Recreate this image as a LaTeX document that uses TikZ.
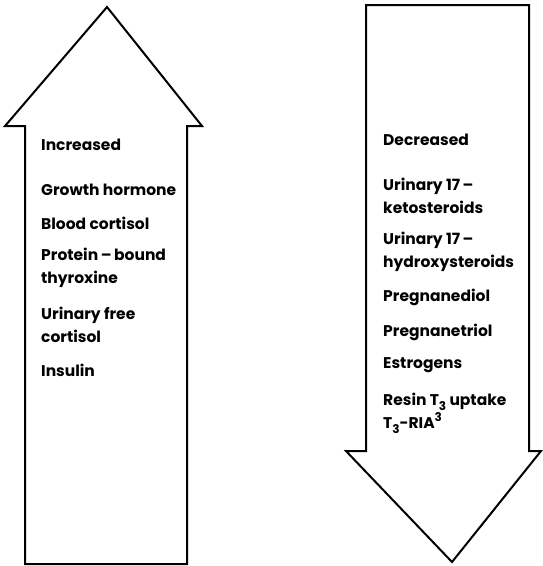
\documentclass[tikz,border=0pt]{standalone}
\usepackage{fontspec}
\setsansfont{Poppins}
\usetikzlibrary{positioning}
\newcommand{\lowidx}[1]{\raisebox{-0.55ex}{\fontsize{12}{12}\selectfont #1}}
\newcommand{\highidx}[1]{\raisebox{0.75ex}{\fontsize{12}{12}\selectfont #1}}

\begin{document}
\begin{tikzpicture}[x=1pt, y=-1pt,
  bigarrow/.style={draw, line width=2pt, line join=miter, fill=white},
  item/.style={anchor=west, inner sep=0pt, align=left,
    font=\sffamily\bfseries\fontsize{15.5}{23}\selectfont}
]
  \useasboundingbox (0,0) rectangle (543,566);
  % up arrow (increased)
  \draw[bigarrow] (25,564) -- (25,126) -- (5,126) -- (107,7) -- (202,126)
    -- (187,126) -- (187,564) -- cycle;
  % down arrow (decreased)
  \draw[bigarrow] (366,5) -- (529,5) -- (529,451) -- (541,451) -- (452,562)
    -- (346,451) -- (366,451) -- cycle;

  \node[item] (inc)  at (41,145) {Increased};
  \node[item] (gh)   at (41,190) {Growth hormone};
  \node[item] (bc)   at (41,223) {Blood cortisol};
  \node[item] (pbt)  at (41,268) {Protein\,--\,bound\\thyroxine};
  \node[item] (ufc)  at (41,325) {Urinary free\\cortisol};
  \node[item] (ins)  at (41,370) {Insulin};

  \node[item] (dec)  at (383,140) {Decreased};
  \node[item] (uks)  at (383,196) {Urinary 17\,--\\ketosteroids};
  \node[item] (uhs)  at (383,252) {Urinary 17\,--\\hydroxysteroids};
  \node[item] (pgd)  at (383,297) {Pregnanediol};
  \node[item] (pgt)  at (383,332) {Pregnanetriol};
  \node[item] (est)  at (383,365) {Estrogens};
  \node[item] (rsn)  at (383,413) {Resin T\lowidx{3} uptake\\T\lowidx{3}-RIA\highidx{3}};
\end{tikzpicture}
\end{document}
